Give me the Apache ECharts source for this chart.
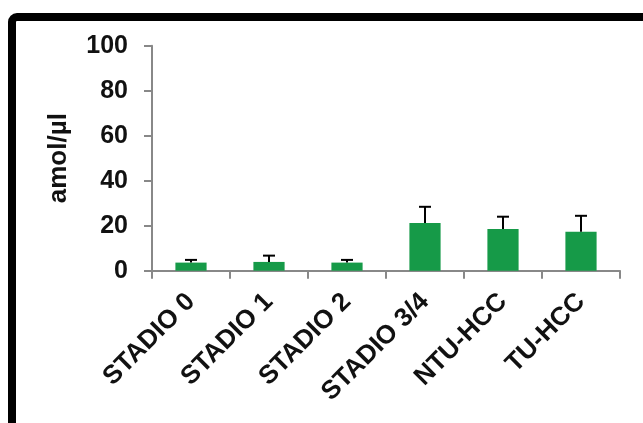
<!DOCTYPE html>
<html>
<head>
<meta charset="utf-8">
<script src="https://cdn.jsdelivr.net/npm/echarts@6/dist/echarts.min.js"></script>
<style>
html,body{margin:0;padding:0;background:#fff;}
#chart{width:643px;height:423px;}
</style>
</head>
<body>
<div id="chart"></div>
<script>
var categories = ['STADIO 0', 'STADIO 1', 'STADIO 2', 'STADIO 3/4', 'NTU-HCC', 'TU-HCC'];
var means = [3.6, 3.9, 3.6, 21.2, 18.5, 17.3];
var errors = [1.2, 2.8, 1.2, 7.2, 5.5, 7.1];
var yTicks = [0, 20, 40, 60, 80, 100];
var yTitle = 'amol/µl';

var FONT = '"Liberation Sans", Arial, sans-serif';
var chart = echarts.init(document.getElementById('chart'), null, {renderer: 'canvas'});

var errData = means.map(function (m, i) { return [i, m, m + errors[i]]; });

chart.setOption({
  animation: false,
  backgroundColor: '#ffffff',
  graphic: [{
    type: 'rect',
    shape: {x: 12, y: 17, width: 800, height: 600, r: 5},
    style: {fill: 'none', stroke: '#000', lineWidth: 8},
    silent: true,
    z: 100
  }],
  grid: {left: 152, right: 23, top: 45.7, bottom: 152.3, containLabel: false},
  xAxis: {
    type: 'category',
    data: categories,
    axisLine: {lineStyle: {color: '#888888', width: 2}},
    axisTick: {show: true, length: 8, lineStyle: {color: '#888888', width: 2}},
    axisLabel: {
      interval: 0, rotate: 45, margin: 27,
      fontFamily: FONT, fontWeight: 'bold', fontSize: 26, color: '#111111'
    }
  },
  yAxis: {
    type: 'value', min: yTicks[0], max: yTicks[yTicks.length - 1], interval: 20,
    name: yTitle, nameLocation: 'middle', nameGap: 80,
    nameTextStyle: {fontFamily: FONT, fontWeight: 'bold', fontSize: 26, color: '#111111'},
    axisLine: {show: true, lineStyle: {color: '#888888', width: 2}},
    axisTick: {show: true, length: 8, lineStyle: {color: '#888888', width: 2}},
    splitLine: {show: false},
    axisLabel: {margin: 24, fontFamily: FONT, fontWeight: 'bold', fontSize: 25, color: '#111111'}
  },
  series: [{
    type: 'bar',
    data: means,
    barWidth: '40%',
    itemStyle: {color: '#169a48'},
    z: 2
  }, {
    type: 'custom',
    data: errData,
    z: 3,
    renderItem: function (params, api) {
      var x = api.value(0);
      var p0 = api.coord([x, api.value(1)]);
      var p1 = api.coord([x, api.value(2)]);
      var hw = 6;
      return {
        type: 'group',
        children: [{
          type: 'line',
          shape: {x1: p0[0], y1: p0[1], x2: p1[0], y2: p1[1]},
          style: {stroke: '#000', lineWidth: 2}
        }, {
          type: 'line',
          shape: {x1: p1[0] - hw, y1: p1[1], x2: p1[0] + hw, y2: p1[1]},
          style: {stroke: '#000', lineWidth: 2}
        }]
      };
    }
  }]
});
</script>
</body>
</html>
